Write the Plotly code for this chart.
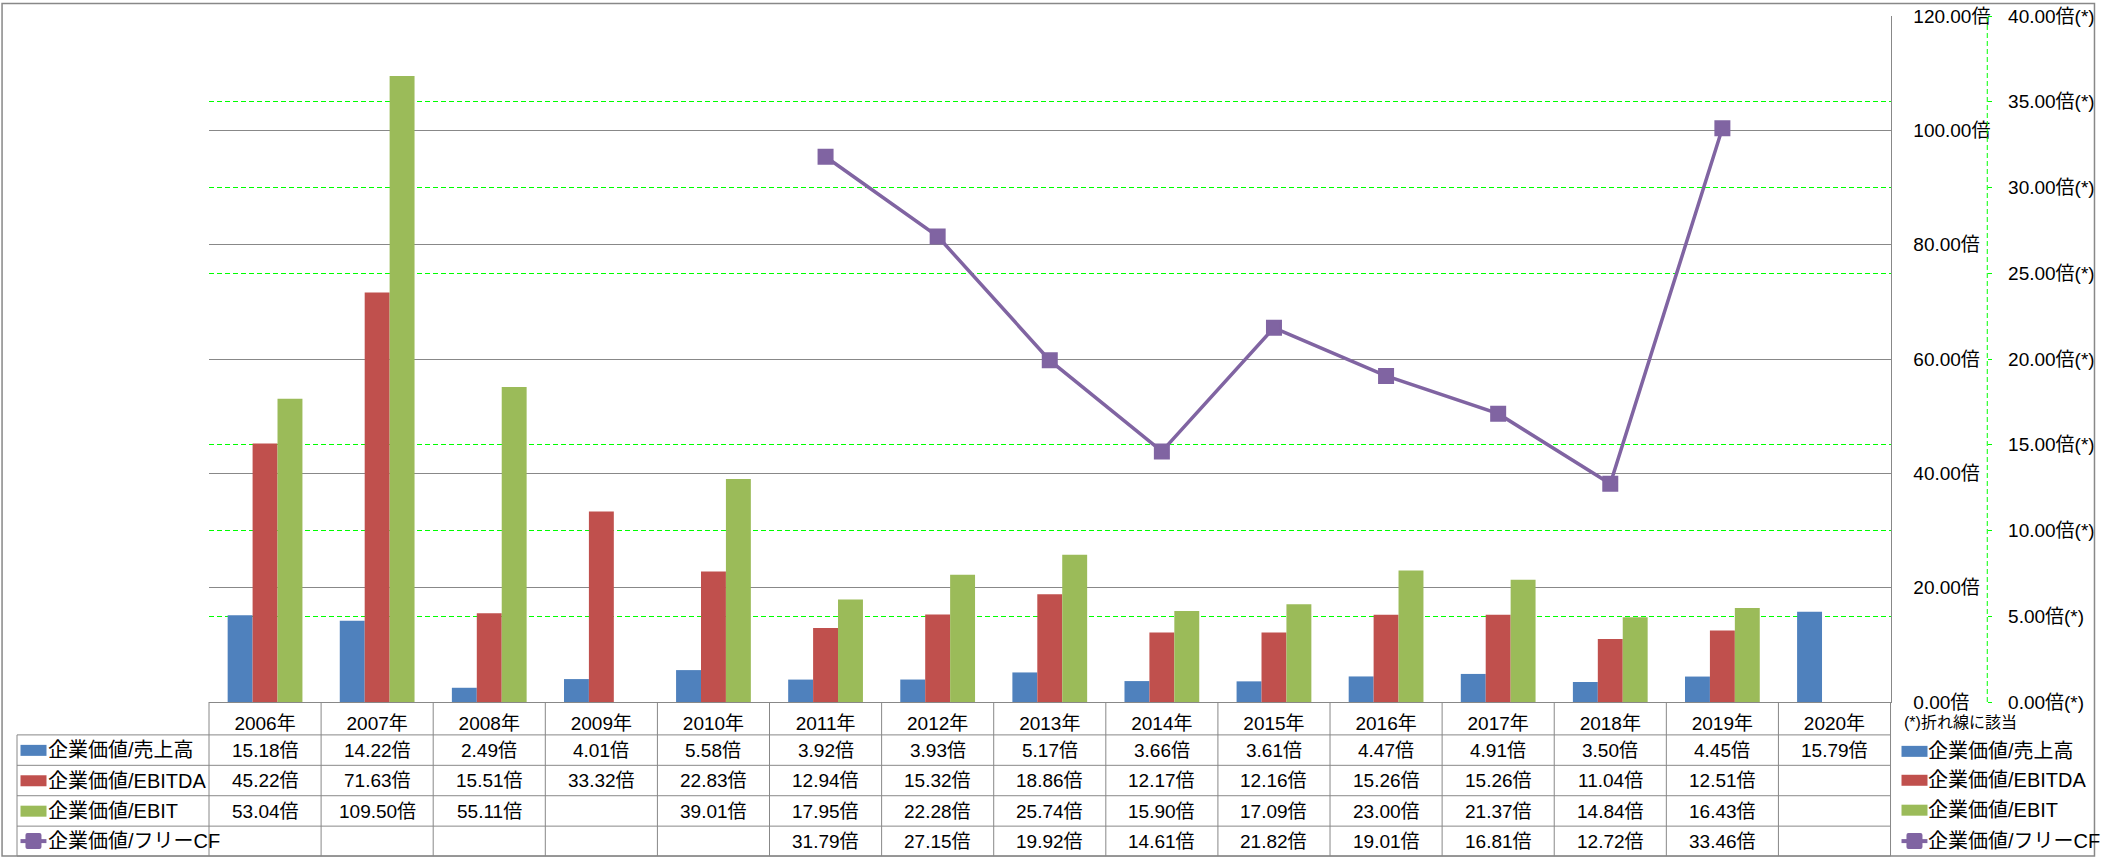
import plotly.graph_objects as go

# ---------------- data ----------------
years = ["2006年", "2007年", "2008年", "2009年", "2010年", "2011年", "2012年", "2013年",
         "2014年", "2015年", "2016年", "2017年", "2018年", "2019年", "2020年"]
ev_sales = [15.18, 14.22, 2.49, 4.01, 5.58, 3.92, 3.93, 5.17, 3.66, 3.61, 4.47, 4.91, 3.50, 4.45, 15.79]
ev_ebitda = [45.22, 71.63, 15.51, 33.32, 22.83, 12.94, 15.32, 18.86, 12.17, 12.16, 15.26, 15.26, 11.04, 12.51, None]
ev_ebit = [53.04, 109.50, 55.11, None, 39.01, 17.95, 22.28, 25.74, 15.90, 17.09, 23.00, 21.37, 14.84, 16.43, None]
ev_fcf = [None, None, None, None, None, 31.79, 27.15, 19.92, 14.61, 21.82, 19.01, 16.81, 12.72, 33.46, None]

series_names = ["企業価値/売上高", "企業価値/EBITDA", "企業価値/EBIT", "企業価値/フリーCF"]
note_text = "(*)折れ線に該当"

# ---------------- style ----------------
C_BLUE, C_RED, C_GREEN, C_PURPLE = "#4F81BD", "#C0504D", "#9BBB59", "#8064A2"
C_GRAY = "#888888"
C_LIME = "#00FF00"
FONT = "Liberation Sans, Noto Sans CJK JP, sans-serif"

W, H = 2101, 858
ML, MR, MT, MB = 209, 6, 14, 156
PW = W - ML - MR          # paper width in px
PH = H - MT - MB          # paper height in px
PLOT_RIGHT = 1895
AX2_X = 1992


def px_x(px):
    return (px - ML) / PW


def px_y(py):
    return (H - MB - py) / PH


fig = go.Figure()
bar_series = [(ev_sales, C_BLUE), (ev_ebitda, C_RED), (ev_ebit, C_GREEN)]
for (vals, col), nm in zip(bar_series, series_names[:3]):
    fig.add_trace(go.Bar(x=years, y=vals, name=nm, marker=dict(color=col, line=dict(width=0))))

fig.add_trace(go.Scatter(
    x=years, y=ev_fcf, name=series_names[3], yaxis="y2", mode="lines+markers",
    line=dict(color=C_PURPLE, width=3.5),
    marker=dict(symbol="square", size=14, color=C_PURPLE, line=dict(color=C_PURPLE, width=2)),
))

shapes = []
annotations = []

# table geometry (px)
row_lines = [735, 765.5, 796, 826.5, 856.5]
row_centers = [750.5, 781, 811.5, 841.5]
table_left = 16.5
axis_y = H - MB

# horizontal table lines
for yl in row_lines:
    shapes.append(dict(type="line", xref="paper", yref="paper",
                       x0=px_x(table_left), x1=px_x(PLOT_RIGHT), y0=px_y(yl), y1=px_y(yl),
                       line=dict(color=C_GRAY, width=1)))
# left border of table
shapes.append(dict(type="line", xref="paper", yref="paper",
                   x0=px_x(table_left), x1=px_x(table_left), y0=px_y(row_lines[0]), y1=px_y(row_lines[-1]),
                   line=dict(color=C_GRAY, width=1)))
# vertical column lines (category boundaries)
n = len(years)
for k in range(n + 1):
    if k == 0:
        xr, xv = "x domain", 0
    elif k == n:
        xr, xv = "x domain", 1
    else:
        xr, xv = "x", k - 0.5
    shapes.append(dict(type="line", xref=xr, yref="paper", x0=xv, x1=xv,
                       y0=px_y(axis_y), y1=px_y(row_lines[-1]),
                       line=dict(color=C_GRAY, width=1)))

# table values
all_vals = [ev_sales, ev_ebitda, ev_ebit, ev_fcf]
for r, vals in enumerate(all_vals):
    for cat, v in zip(years, vals):
        if v is None:
            continue
        annotations.append(dict(xref="x", yref="paper", x=cat, y=px_y(row_centers[r]),
                                text=f"{v:.2f}倍", showarrow=False, xanchor="center", yanchor="middle",
                                font=dict(size=19, color="black", family=FONT)))


# legend-like keys (table row headers and right-side legend)
def add_key(x_sw, x_txt, yc, r):
    col = [C_BLUE, C_RED, C_GREEN, C_PURPLE][r]
    if r < 3:
        shapes.append(dict(type="rect", xref="paper", yref="paper",
                           xsizemode="pixel", ysizemode="pixel",
                           xanchor=px_x(x_sw), yanchor=px_y(yc),
                           x0=0, x1=26, y0=-5.5, y1=5.5,
                           fillcolor=col, line=dict(width=0)))
    else:
        shapes.append(dict(type="line", xref="paper", yref="paper",
                           x0=px_x(x_sw), x1=px_x(x_sw + 26), y0=px_y(yc), y1=px_y(yc),
                           line=dict(color=col, width=4)))
        shapes.append(dict(type="path", xref="paper", yref="paper",
                           xsizemode="pixel", ysizemode="pixel",
                           xanchor=px_x(x_sw + 13), yanchor=px_y(yc),
                           path="M -6 -8 L 6 -8 Q 8 -8 8 -6 L 8 6 Q 8 8 6 8 L -6 8 Q -8 8 -8 6 L -8 -6 Q -8 -8 -6 -8 Z",
                           fillcolor=col, line=dict(width=0)))
    annotations.append(dict(xref="paper", yref="paper", x=px_x(x_txt), y=px_y(yc),
                            text=series_names[r], showarrow=False, xanchor="left", yanchor="middle",
                            font=dict(size=20, color="black", family=FONT)))


for r in range(4):
    add_key(20, 46, row_centers[r], r)
legend_y = [751.5, 780.5, 810.5, 841.5]
for r in range(4):
    add_key(1906, 1931, legend_y[r], r)

annotations.append(dict(xref="paper", yref="paper", x=px_x(1907), y=px_y(723),
                        text=note_text, showarrow=False, xanchor="left", yanchor="middle",
                        font=dict(size=16, color="black", family=FONT)))

# secondary axis dashed line
shapes.append(dict(type="line", xref="paper", yref="paper",
                   x0=px_x(AX2_X), x1=px_x(AX2_X), y0=0, y1=1,
                   line=dict(color=C_LIME, width=1, dash="5px,3px")))

# outer chart border
shapes.append(dict(type="rect", xref="paper", yref="paper",
                   x0=px_x(1.5), x1=px_x(2099.5), y0=px_y(856.5), y1=px_y(1.5),
                   line=dict(color=C_GRAY, width=1.5), fillcolor="rgba(0,0,0,0)"))

fig.update_layout(
    width=W, height=H,
    margin=dict(l=ML, r=MR, t=MT, b=MB, pad=0),
    paper_bgcolor="white", plot_bgcolor="white",
    showlegend=False,
    barmode="group", bargap=0.333, bargroupgap=0,
    font=dict(family=FONT, size=19, color="black"),
    xaxis=dict(domain=[0, px_x(PLOT_RIGHT)], type="category", showgrid=False,
               showline=True, linecolor=C_GRAY, linewidth=1, ticks="",
               tickfont=dict(size=19, color="black"), ticklabelstandoff=4,
               range=[-0.5, len(years) - 0.5]),
    yaxis=dict(side="right", anchor="x", range=[0, 120], dtick=20, tick0=0,
               tickformat=".2f", ticksuffix="倍", showline=True, linecolor=C_GRAY, linewidth=1,
               showgrid=True, gridcolor=C_GRAY, gridwidth=1, zeroline=False, ticks="",
               ticklabelstandoff=18, tickfont=dict(size=19, color="black"),
               minor=dict(dtick=15, tick0=0, showgrid=True, gridcolor=C_LIME, gridwidth=1,
                          griddash="5px,3px")),
    yaxis2=dict(overlaying="y", side="right", anchor="free", position=px_x(AX2_X),
                range=[0, 40], dtick=5, tick0=0, tickformat=".2f", ticksuffix="倍(*)",
                showgrid=False, zeroline=False, showline=False,
                ticks="outside", ticklen=4, tickcolor=C_LIME, tickwidth=1,
                ticklabelstandoff=12, tickfont=dict(size=19, color="black")),
    shapes=shapes,
    annotations=annotations,
)

fig.write_html("out.html")
